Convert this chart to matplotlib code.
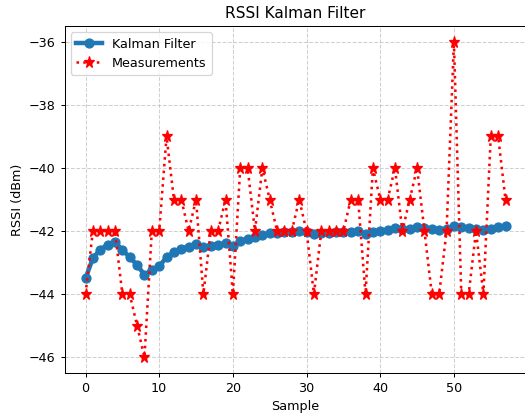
import numpy as np
import matplotlib
matplotlib.use('Agg')
from matplotlib import pyplot as plt

# measured RSSI values (dBm) per sample
measurements = [-44, -42, -42, -42, -42, -44, -44, -45, -46, -42,
                -42, -39, -41, -41, -42, -41, -44, -42, -42, -41,
                -44, -40, -40, -42, -40, -41, -42, -42, -42, -41,
                -42, -44, -42, -42, -42, -42, -41, -41, -44, -40,
                -41, -41, -40, -42, -41, -40, -42, -44, -44, -42,
                -36, -44, -44, -42, -44, -39, -39, -41]

# kalman filter estimates
kalman = [-43.50, -42.86, -42.59, -42.43, -42.35, -42.60, -42.83, -43.07, -43.39, -43.23,
          -43.12, -42.83, -42.67, -42.56, -42.49, -42.40, -42.50, -42.48, -42.45, -42.38,
          -42.46, -42.33, -42.24, -42.19, -42.11, -42.07, -42.05, -42.04, -42.04, -42.01,
          -42.03, -42.10, -42.06, -42.05, -42.04, -42.04, -42.02, -42.01, -42.08, -42.02,
          -42.01, -41.97, -41.91, -41.95, -41.92, -41.87, -41.90, -41.93, -41.96, -41.93,
          -41.83, -41.87, -41.91, -41.92, -41.97, -41.92, -41.86, -41.85]

samples = np.arange(len(measurements))

dpi = 92
fig = plt.figure(figsize=(525/dpi, 418/dpi), dpi=dpi)
ax = fig.add_axes([64.5/525, 45/418, 462/525, 347/418])

ax.plot(samples, kalman, 'o-', color='tab:blue', linewidth=3.5, markersize=7, label='Kalman Filter')
ax.plot(samples, measurements, 'r*:', linewidth=2, markersize=9, label='Measurements')

ax.set_title('RSSI Kalman Filter')
ax.set_xlabel('Sample')
ax.set_ylabel('RSSI (dBm)')
ax.grid(True, linestyle='--', alpha=0.6)
ax.legend(loc='upper left')

fig.savefig('out.png', dpi=dpi)
